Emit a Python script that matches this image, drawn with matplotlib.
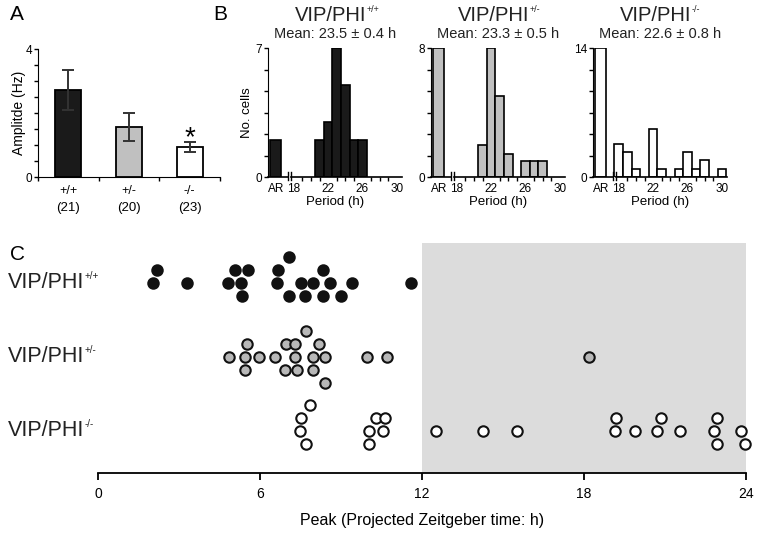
import numpy as np
import matplotlib.pyplot as plt
from matplotlib.transforms import blended_transform_factory

plt.rcParams['font.family'] = ['Liberation Sans', 'DejaVu Sans']

# ---- data ----
genotypes = ['+/+', '+/-', '-/-']
n_cells = [21, 20, 23]
amplitude = [2.72, 1.56, 0.94]
amp_sem = [0.63, 0.44, 0.16]
fills = ['#1a1a1a', '#c0c0c0', 'white']

hist_ymax = [7, 8, 14]
means = ['Mean: 23.5 \u00b1 0.4 h', 'Mean: 23.3 \u00b1 0.5 h', 'Mean: 22.6 \u00b1 0.8 h']
ar_counts = [2, 8, 14]
wt_hours = [21, 22, 23, 24, 25, 26]
wt_counts = [2, 3, 7, 5, 2, 2]
het_hours = [21, 22, 23, 24, 26, 27, 28]
het_counts = [2, 8, 5, 1.4, 1, 1, 1]
ko_hours = [18, 19, 20, 22, 23, 25, 26, 27, 28, 30]
ko_counts = [3.6, 2.7, 0.9, 5.2, 0.9, 0.9, 2.7, 0.9, 1.8, 0.9]
period_hours = [wt_hours, het_hours, ko_hours]
period_counts = [wt_counts, het_counts, ko_counts]

# peak times (h) and stacking row of each dot
wt_peak = [7.07, 2.19, 5.08, 5.55, 6.67, 8.32,
           2.05, 3.31, 4.8, 5.28, 6.62, 7.5, 7.98, 8.6, 9.4, 11.58,
           5.33, 7.08, 7.65, 8.32, 9.01]
wt_row = [-2, -1, -1, -1, -1, -1,
          0, 0, 0, 0, 0, 0, 0, 0, 0, 0,
          1, 1, 1, 1, 1]
het_peak = [7.7, 5.53, 6.96, 7.31, 8.17,
            4.84, 5.45, 5.95, 6.56, 7.28, 7.95, 8.42, 9.95, 10.72, 18.2,
            5.45, 6.94, 7.38, 7.95, 8.42]
het_row = [-2, -1, -1, -1, -1,
           0, 0, 0, 0, 0, 0, 0, 0, 0, 0,
           1, 1, 1, 1, 2]
ko_peak = [7.85, 7.5, 10.3, 10.62, 19.19, 20.85, 22.93,
           7.48, 10.05, 10.57, 12.52, 14.25, 15.52, 19.15, 19.9, 20.7, 21.56, 22.8, 23.8,
           7.7, 10.05, 22.93, 23.97]
ko_row = [-2, -1, -1, -1, -1, -1, -1,
          0, 0, 0, 0, 0, 0, 0, 0, 0, 0, 0, 0,
          1, 1, 1, 1]
peaks = [wt_peak, het_peak, ko_peak]
rows = [wt_row, het_row, ko_row]
sups = ['+/+', '+/-', '-/-']

W, H = 760, 533
fig = plt.figure(figsize=(W / 100, H / 100), dpi=100)


def px_axes(l, t, r, b):
    return fig.add_axes([l / W, 1 - b / H, (r - l) / W, (b - t) / H])


# ---- panel A ----
axA = px_axes(38, 49, 220, 177)
xa = np.arange(3) + 0.5
axA.bar(xa, amplitude, width=0.43, color=fills, edgecolor='k', linewidth=1.3)
axA.errorbar(xa, amplitude, yerr=amp_sem, fmt='none', ecolor='#333',
             elinewidth=1.4, capsize=4, capthick=1.4)
axA.set_xlim(0, 3)
axA.set_ylim(0, 4)
for s in ['top', 'right']:
    axA.spines[s].set_visible(False)
axA.set_yticks([0, 4])
axA.set_yticks(np.arange(0, 4.01, 0.5), minor=True)
axA.set_xticks([0, 1, 2, 3])
axA.set_xticklabels([])
axA.tick_params(which='both', direction='out', length=3, width=1, labelsize=8.5, pad=1)
ta = blended_transform_factory(axA.transData, axA.transAxes)
for i in range(3):
    axA.text(xa[i], -0.11, genotypes[i], transform=ta, ha='center', va='center', fontsize=9)
    axA.text(xa[i], -0.245, '(%d)' % n_cells[i], transform=ta, ha='center', va='center', fontsize=9.5)
axA.text(xa[2], amplitude[2] + amp_sem[2] + 0.1, '*', ha='center', va='center', fontsize=20)
axA.set_ylabel('Amplitde (Hz)', fontsize=10, labelpad=0)
fig.text(10 / W, 1 - 15 / H, 'A', fontsize=15, va='center', ha='left')

# ---- panel B ----
lefts = [268, 431, 593]
for i in range(3):
    ax = px_axes(lefts[i], 48, lefts[i] + 134, 177)
    ax.bar([15.9], [ar_counts[i]], width=1.3, color=fills[i], edgecolor='k', linewidth=1.2)
    ax.bar(period_hours[i], period_counts[i], width=1.0, color=fills[i], edgecolor='k', linewidth=1.2)
    ax.set_xlim(15, 30.6)
    ax.set_ylim(0, hist_ymax[i])
    for s in ['top', 'right', 'bottom']:
        ax.spines[s].set_visible(False)
    ax.plot([15, 17.35], [0, 0], color='k', lw=1.2, clip_on=False)
    ax.plot([17.65, 30.6], [0, 0], color='k', lw=1.2, clip_on=False)
    bt = blended_transform_factory(ax.transData, ax.transAxes)
    for bx in [17.35, 17.65]:
        ax.plot([bx, bx], [-0.025, 0.04], color='k', lw=1.0, transform=bt, clip_on=False)
    ax.set_yticks([0, hist_ymax[i]])
    ax.set_yticks(np.linspace(0, hist_ymax[i], 7), minor=True)
    ax.set_xticks([15.9, 18, 22, 26, 30])
    ax.set_xticklabels(['AR', '18', '22', '26', '30'])
    ax.set_xticks(np.arange(18, 31), minor=True)
    ax.tick_params(which='both', direction='out', length=3, width=1, labelsize=8.5, pad=1)
    ax.tick_params(axis='x', which='major', length=0, pad=4)
    ax.set_xlabel('Period (h)', fontsize=9.5, labelpad=1)
    if i == 0:
        ax.set_ylabel('No. cells', fontsize=9.5, labelpad=2)
    ax.text(0.5, 1.11, means[i], transform=ax.transAxes, ha='center', va='center', fontsize=10.5, color='#222')
    t = ax.text(0.47, 1.25, 'VIP/PHI', transform=ax.transAxes, ha='center', va='center', fontsize=14.5, color='#222')
    ax.annotate(sups[i], xy=(1.0, 0.6), xycoords=t, fontsize=6.5, ha='left', va='bottom',
                color='#222', annotation_clip=False)
fig.text(213 / W, 1 - 15 / H, 'B', fontsize=15, va='center', ha='left')

# ---- panel C ----
axC = px_axes(98, 243, 746, 473)
axC.axvspan(12, 24, color='#dcdcdc', lw=0, zorder=0)
row_px = 12.8
centers = [0, 74 / row_px, 148 / row_px]
axC.set_xlim(0, 24)
axC.set_ylim((473 - 283) / row_px, (243 - 283) / row_px)
dot_fill = ['#111111', '#b8b8b8', 'white']
for i in range(3):
    y = centers[i] + np.array(rows[i])
    axC.plot(peaks[i], y, 'o', ms=7.5, mfc=dot_fill[i], mec='#111', mew=1.5, ls='none',
             clip_on=False, zorder=3)
    bt = blended_transform_factory(axC.transAxes, axC.transData)
    t = axC.text(-0.139, centers[i], 'VIP/PHI', transform=bt, ha='left', va='center',
                 fontsize=15.5, color='#222')
    axC.annotate(sups[i], xy=(1.0, 0.6), xycoords=t, fontsize=7, ha='left', va='bottom',
                 color='#222', annotation_clip=False)
for s in ['top', 'right', 'left']:
    axC.spines[s].set_visible(False)
axC.spines['bottom'].set_linewidth(1.3)
axC.set_yticks([])
axC.set_xticks([0, 6, 12, 18, 24])
axC.tick_params(axis='x', direction='out', length=5, width=1.3, labelsize=10, pad=5)
axC.set_xlabel('Peak (Projected Zeitgeber time: h)', fontsize=11.5, labelpad=9)
fig.text(10 / W, 1 - 255 / H, 'C', fontsize=15, va='center', ha='left')

fig.savefig('out.png', dpi=100)
